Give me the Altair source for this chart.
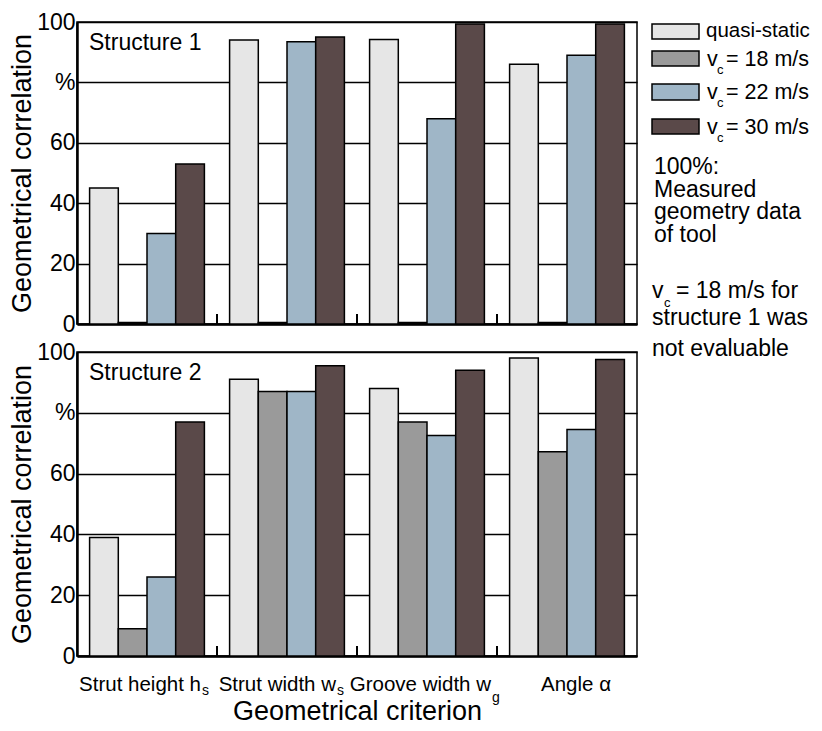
import altair as alt
import pandas as pd

FONT = "Liberation Sans"

categories = ["Strut height", "Strut width", "Groove width", "Angle"]
series = ["quasi-static", "v18", "v22", "v30"]
colors = ["#e6e6e6", "#9a9a9a", "#9fb6c7", "#5a4949"]

# Structure 1 (v_c = 18 m/s not evaluable -> drawn as a sliver)
s1_quasi = [45, 94, 94.2, 86]
s1_v18 = [0.5, 0.5, 0.5, 0.5]
s1_v22 = [30, 93.5, 68, 89]
s1_v30 = [53, 95, 99.3, 99.3]

# Structure 2
s2_quasi = [39, 91, 88, 98]
s2_v18 = [9, 87, 77, 67.2]
s2_v22 = [26, 87, 72.5, 74.5]
s2_v30 = [77, 95.5, 94, 97.5]

# group boundaries (between the criterion groups)
boundaries = [1, 2, 3]

label_main = ["Strut height h", "Strut width w", "Groove width w", "Angle \u03b1"]
label_sub = ["s", "s", "g", ""]

legend_main = ["quasi-static", "v", "v", "v"]
legend_sub = ["", "c", "c", "c"]
legend_rest = ["", "= 18 m/s", "= 22 m/s", "= 30 m/s"]

W = 560
H1 = 302
H2 = 304


def long_df(vals):
    rows = []
    for s, arr in zip(series, vals):
        for c, v in zip(categories, arr):
            rows.append({"criterion": c, "series": s, "value": v})
    return pd.DataFrame(rows)


one = pd.DataFrame({"k": [0]})


def txt(text, x, y, size, align="left", baseline="alphabetic", lineHeight=None):
    kw = dict(align=align, baseline=baseline, fontSize=size, font=FONT, color="black")
    if lineHeight is not None:
        kw["lineHeight"] = lineHeight
        kw["lineBreak"] = "\n"
    return alt.Chart(one).mark_text(**kw).encode(
        x=alt.value(x), y=alt.value(y), text=alt.value(text)
    )


def panel(vals, name, height, bottom):
    df = long_df(vals)
    xaxis = alt.Axis(
        labels=False, ticks=False, grid=False, domainColor="black", domainWidth=2.5,
        title="Geometrical criterion" if bottom else None,
        titleFontSize=27, titleFontWeight="normal", titlePadding=42, titleFont=FONT,
        titleColor="black",
    )
    x = alt.X("criterion:N", sort=categories,
              scale=alt.Scale(paddingInner=0.18, paddingOuter=0.09), axis=xaxis)
    yaxis = alt.Axis(
        values=[0, 20, 40, 60, 80, 100],
        labelExpr="datum.value == 80 ? '%' : datum.label",
        grid=True, gridColor="black", gridWidth=1.5, gridOpacity=1,
        domainColor="black", domainWidth=2.5, ticks=False,
        labelFontSize=23, labelPadding=2, labelFont=FONT, labelColor="black",
        title="Geometrical correlation", titleFontSize=27, titleFontWeight="normal",
        titleFont=FONT, titleColor="black", titlePadding=0,
    )
    bars = alt.Chart(df).mark_bar(stroke="black", strokeWidth=1.5).encode(
        x=x,
        xOffset=alt.XOffset("series:N", sort=series,
                            scale=alt.Scale(paddingInner=0, paddingOuter=0)),
        y=alt.Y("value:Q", scale=alt.Scale(domain=[0, 100], nice=False), axis=yaxis),
        fill=alt.Fill("series:N", scale=alt.Scale(domain=series, range=colors), legend=None),
    )
    labels_layers = [txt(name, 12, 28, 23)]
    if bottom:
        dxs = [54, 49, 64, 44]
        sub_dy = [4, 4, 11, 0]
        for i, c in enumerate(categories):
            ldf = pd.DataFrame({"criterion": [c], "main": [label_main[i]], "sub": [label_sub[i]]})
            labels_layers.append(alt.Chart(ldf).mark_text(
                align="right", baseline="alphabetic", fontSize=20.5, font=FONT,
                color="black", dx=dxs[i]).encode(
                x=alt.X("criterion:N", sort=categories), y=alt.value(height + 35),
                text="main:N"))
            if label_sub[i]:
                labels_layers.append(alt.Chart(ldf).mark_text(
                    align="left", baseline="alphabetic", fontSize=14, font=FONT,
                    color="black", dx=dxs[i] + 1).encode(
                    x=alt.X("criterion:N", sort=categories),
                    y=alt.value(height + 35 + sub_dy[i]),
                    text="sub:N"))
    else:
        sw_top = [2, 29, 62, 97]
        sw_bot = [17, 44, 78, 112]
        base = [15, 44, 77, 112]
        for i in range(4):
            labels_layers.append(alt.Chart(one).mark_rect(stroke="black", strokeWidth=1.5).encode(
                x=alt.value(575), x2=alt.value(622),
                y=alt.value(sw_top[i]), y2=alt.value(sw_bot[i]),
                fill=alt.value(colors[i])))
            if legend_sub[i]:
                labels_layers.append(txt(legend_main[i], 630, base[i], 21.5))
                labels_layers.append(txt(legend_sub[i], 640, base[i] + 8, 13))
                labels_layers.append(txt(legend_rest[i], 649, base[i], 21.5))
            else:
                labels_layers.append(txt(legend_main[i], 629, base[i], 20.5))
        labels_layers.append(txt("100%:\nMeasured\ngeometry data\nof tool", 577, 152, 23, lineHeight=22.7))
        labels_layers.append(txt("v", 575, 276, 23))
        labels_layers.append(txt("c", 587, 285, 13))
        labels_layers.append(txt("= 18 m/s for", 599, 276, 23))
        labels_layers.append(txt("structure 1 was\nnot evaluable", 575, 303, 23, lineHeight=31))
    main = alt.layer(bars, *labels_layers)
    bdf = pd.DataFrame({"b": boundaries})
    ticks = alt.Chart(bdf).mark_rule(color="black", strokeWidth=2).encode(
        x=alt.X("b:Q", scale=alt.Scale(domain=[0, 4], nice=False, zero=False), axis=None),
        y=alt.value(height), y2=alt.value(height - 10),
    )
    return alt.layer(main, ticks).resolve_scale(x="independent").properties(width=W, height=height)


top = panel([s1_quasi, s1_v18, s1_v22, s1_v30], "Structure 1", H1, False)
bot = panel([s2_quasi, s2_v18, s2_v22, s2_v30], "Structure 2", H2, True)

chart = alt.vconcat(top, bot, spacing=28, bounds="flush").properties(
    padding={"left": -1, "top": 2, "right": 0, "bottom": -3}
).configure_view(stroke="black", strokeWidth=1.5)

chart.save("out.html", embed_options={"renderer": "svg", "actions": False})
